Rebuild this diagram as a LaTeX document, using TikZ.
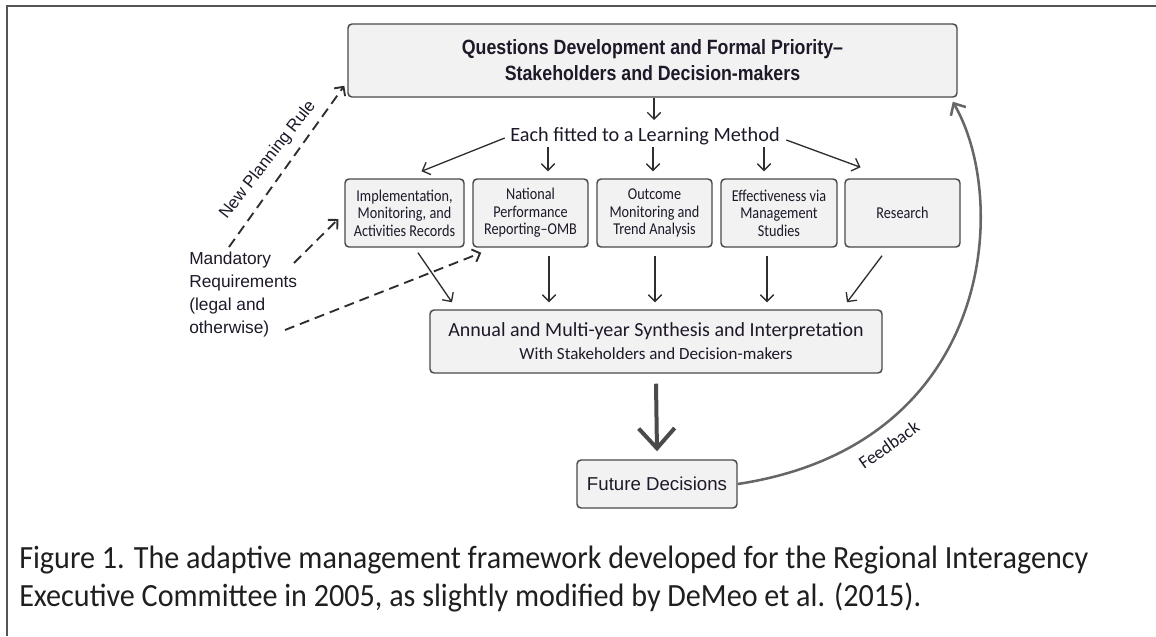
\documentclass[tikz,border=0pt]{standalone}
\usepackage{fontspec}
\setmainfont{Carlito}
\newfontfamily\titlefont[FakeStretch=0.86]{Liberation Sans}
\newfontfamily\arialfont{Liberation Sans}
\newfontfamily\boxfont[FakeStretch=0.86]{Carlito}
\newfontfamily\capfont[FakeStretch=0.93]{Carlito}
\usetikzlibrary{arrows.meta,calc}
\definecolor{txt}{HTML}{1E1828}
\definecolor{ln}{HTML}{2E2E2E}
\definecolor{bfill}{HTML}{F2F2F2}
\definecolor{bdraw}{HTML}{4A4A4A}
\definecolor{fbc}{HTML}{666666}
\definecolor{frame}{HTML}{555555}
\begin{document}
\begin{tikzpicture}[x=0.75pt,y=-0.75pt,
 box/.style={draw=bdraw,fill=bfill,line width=1.1pt,rounded corners=3pt,inner sep=0pt,text=txt,align=center},
 rowbox/.style={box,minimum height=51pt,font=\boxfont\fontsize{12.4}{13.2}\selectfont},
 arr/.style={draw=ln,line width=1pt,-{Straight Barb[length=5pt,width=10pt]}},
 dsh/.style={draw=ln,line width=1.4pt,dash pattern=on 7.5pt off 4.5pt,-{Straight Barb[length=5pt,width=10pt]}},
 thickarr/.style={draw=bdraw,line width=3pt,-{Straight Barb[length=15pt,width=27pt]}},
 fbarr/.style={draw=fbc,line width=1.9pt,-{Straight Barb[length=7pt,width=13pt]}},
]
\useasboundingbox (0,0) rectangle (1156,636);
\draw[frame,line width=1.5pt] (7,636) -- (7,6) -- (1156,6);

\node[box,minimum width=456.75pt,minimum height=54.75pt,font=\titlefont\bfseries\fontsize{15.5}{19.5}\selectfont] (top) at (652.5,60.5) {Questions Development and Formal Priority–\\Stakeholders and Decision-makers};

\node[text=txt,inner sep=1pt,font=\fontsize{15.2}{18}\selectfont] (each) at (645,136) {Each fitted to a Learning Method};

\node[rowbox,minimum width=89.25pt] (b1) at (404.5,213) {Implementation,\\Monitoring, and\\Activities Records};
\node[rowbox,minimum width=86.25pt] (b2) at (530.5,213) {National\\Performance\\Reporting–OMB};
\node[rowbox,minimum width=86.25pt] (b3) at (654.5,213) {Outcome\\Monitoring and\\Trend Analysis};
\node[rowbox,minimum width=87pt] (b4) at (779,213) {Effectiveness via\\Management\\Studies};
\node[rowbox,minimum width=86.25pt] (b5) at (902.5,213) {Research};

\node[box,minimum width=339pt,minimum height=47.25pt,font=\fontsize{15}{17.25}\selectfont] (syn) at (656,341.5) {Annual and Multi-year Synthesis and Interpretation\\{\fontsize{12.75}{17.25}\selectfont With Stakeholders and Decision-makers}};

\node[box,minimum width=120pt,minimum height=36pt,font=\arialfont\fontsize{14}{16}\selectfont] (fut) at (657,484) {Future Decisions};

\node[anchor=west,align=left,inner sep=0pt,text=txt,font=\arialfont\fontsize{13}{17.25}\selectfont] (mand) at (189,295) {Mandatory\\Requirements\\(legal and\\otherwise)};

\coordinate (m0) at (229,247);
\coordinate (m1) at (294,263);
\coordinate (m2) at (285,330);

% arrows top part
\draw[arr] (top.south -| 654,0) -- (654,120);
\draw[arr] ($(each.west)+(-4,2)$) -- ($(b1.north)+(17,-7)$);
\draw[arr] ($(b2.north |- each.south)+(17.5,1)$) -- ($(b2.north)+(17.5,-7)$);
\draw[arr] ($(b3.north |- each.south)+(-1.5,1)$) -- ($(b3.north)+(-1.5,-7)$);
\draw[arr] ($(b4.north |- each.south)+(-15,1)$) -- ($(b4.north)+(-15,-7)$);
\draw[arr] ($(each.east)+(5,4)$) -- ($(b5.north)+(-42,-11)$);

% arrows to synthesis
\draw[arr] ($(b1.south)+(13.5,5)$) -- ($(syn.north)+(-204,-7)$);
\draw[arr] ($(b2.south)+(18.5,8)$) -- ($(b2.south |- syn.north)+(18.5,-7)$);
\draw[arr] ($(b3.south)+(0.5,8)$) -- ($(b3.south |- syn.north)+(0.5,-7)$);
\draw[arr] ($(b4.south)+(-12,8)$) -- ($(b4.south |- syn.north)+(-12,-7)$);
\draw[arr] ($(b5.south)+(-20.5,8)$) -- ($(syn.north)+(191,-7)$);

% thick arrow
\draw[thickarr] ($(syn.south)+(0,10)$) -- ($(fut.north)+(0,-8)$);

% dashed
\draw[dsh] (m0) -- ($(top.south west)+(-3,-12)$);
\draw[dsh] (m1) -- ($(b1.west)+(-6,6)$);
\draw[dsh] (m2) -- ($(b2.south west)+(9,5)$);
\node[rotate=52,text=txt,inner sep=0pt,font=\arialfont\fontsize{12.75}{15}\selectfont] (npr) at (268,160) {New Planning Rule};

% feedback
\draw[fbarr] (fut.east) .. controls (995,445) and (1010,200) .. ($(top.south east)+(-5,4)$);
\node[rotate=35,text=txt,inner sep=0pt,font=\fontsize{13.5}{15}\selectfont] (fbl) at (889,445) {Feedback};

% caption
\node[anchor=north west,align=left,inner sep=0pt,text=black!88,font=\capfont\fontsize{24.3}{28.5}\selectfont] (cap) at (19,546) {Figure 1. The adaptive management framework developed for the Regional Interagency\\Executive Committee in 2005, as slightly modified by DeMeo et al. (2015).};
\end{tikzpicture}
\end{document}
